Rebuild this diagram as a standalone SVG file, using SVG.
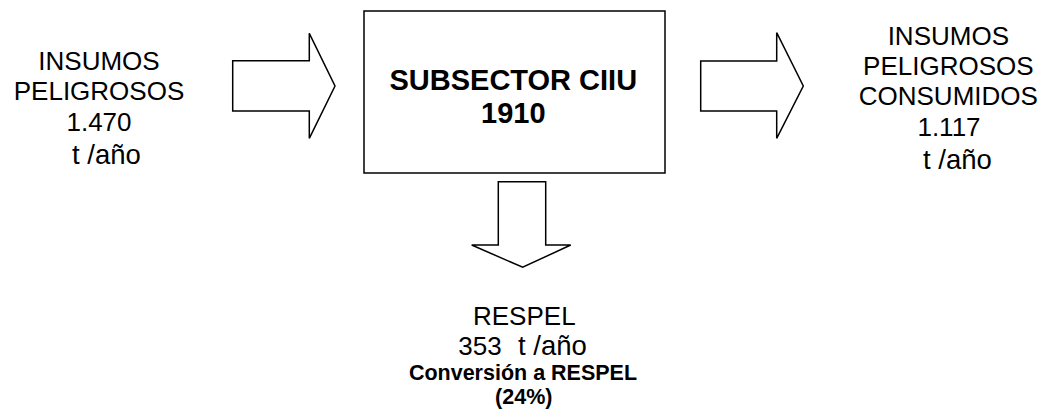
<svg xmlns="http://www.w3.org/2000/svg" width="1045" height="415" viewBox="0 0 1045 415">
<style>
.shape{fill:#fff;stroke:#000;stroke-width:1.5;stroke-linejoin:miter}
.t{font-family:"Liberation Sans",Arial,sans-serif;font-size:26px;fill:#000}
.c{text-anchor:middle}
.b{font-weight:bold}
.h{font-size:29px}
.s{font-size:21.5px}
.u{font-size:27.5px}
</style>
<rect width="1045" height="415" fill="#fff"/>
<g id="connectors">
<polygon id="arrow-in" class="shape" points="232.7,60.7 309.3,60.7 309.3,33.3 335,86 309.3,138.3 309.3,111 232.7,111"/>
<polygon id="arrow-out" class="shape" points="700.7,61 776.7,61 776.7,32.7 803.3,86 776.7,138.3 776.7,111 700.7,111"/>
<polygon id="arrow-down" class="shape" points="498.3,181.7 545.7,181.7 545.7,245 570.7,245 522.7,267.3 471.7,245 498.3,245"/>
</g>
<g id="node-insumos">
<text class="t c" x="99" y="70">INSUMOS</text>
<text class="t c" x="99" y="100">PELIGROSOS</text>
<text class="t c" x="99" y="130.7">1.470</text>
<text class="t u" x="72" y="164">t /año</text>
</g>
<g id="node-subsector">
<rect class="shape" x="364" y="11" width="301" height="162"/>
<text class="t c b h" x="513.3" y="90">SUBSECTOR CIIU</text>
<text class="t c b h" x="513.3" y="122.7">1910</text>
</g>
<g id="node-consumidos">
<text class="t c" x="948.3" y="45">INSUMOS</text>
<text class="t c" x="948.3" y="75">PELIGROSOS</text>
<text class="t c" x="948.3" y="105">CONSUMIDOS</text>
<text class="t c" x="949" y="136">1.117</text>
<text class="t u" x="923" y="169">t /año</text>
</g>
<g id="node-respel">
<text class="t c" x="524.3" y="325">RESPEL</text>
<text class="t" x="458.3" y="355">353</text>
<text class="t u" x="518" y="355">t /año</text>
<text class="t c b s" x="523" y="380">Conversión a RESPEL</text>
<text class="t c b s" x="523.8" y="404">(24%)</text>
</g>
</svg>
